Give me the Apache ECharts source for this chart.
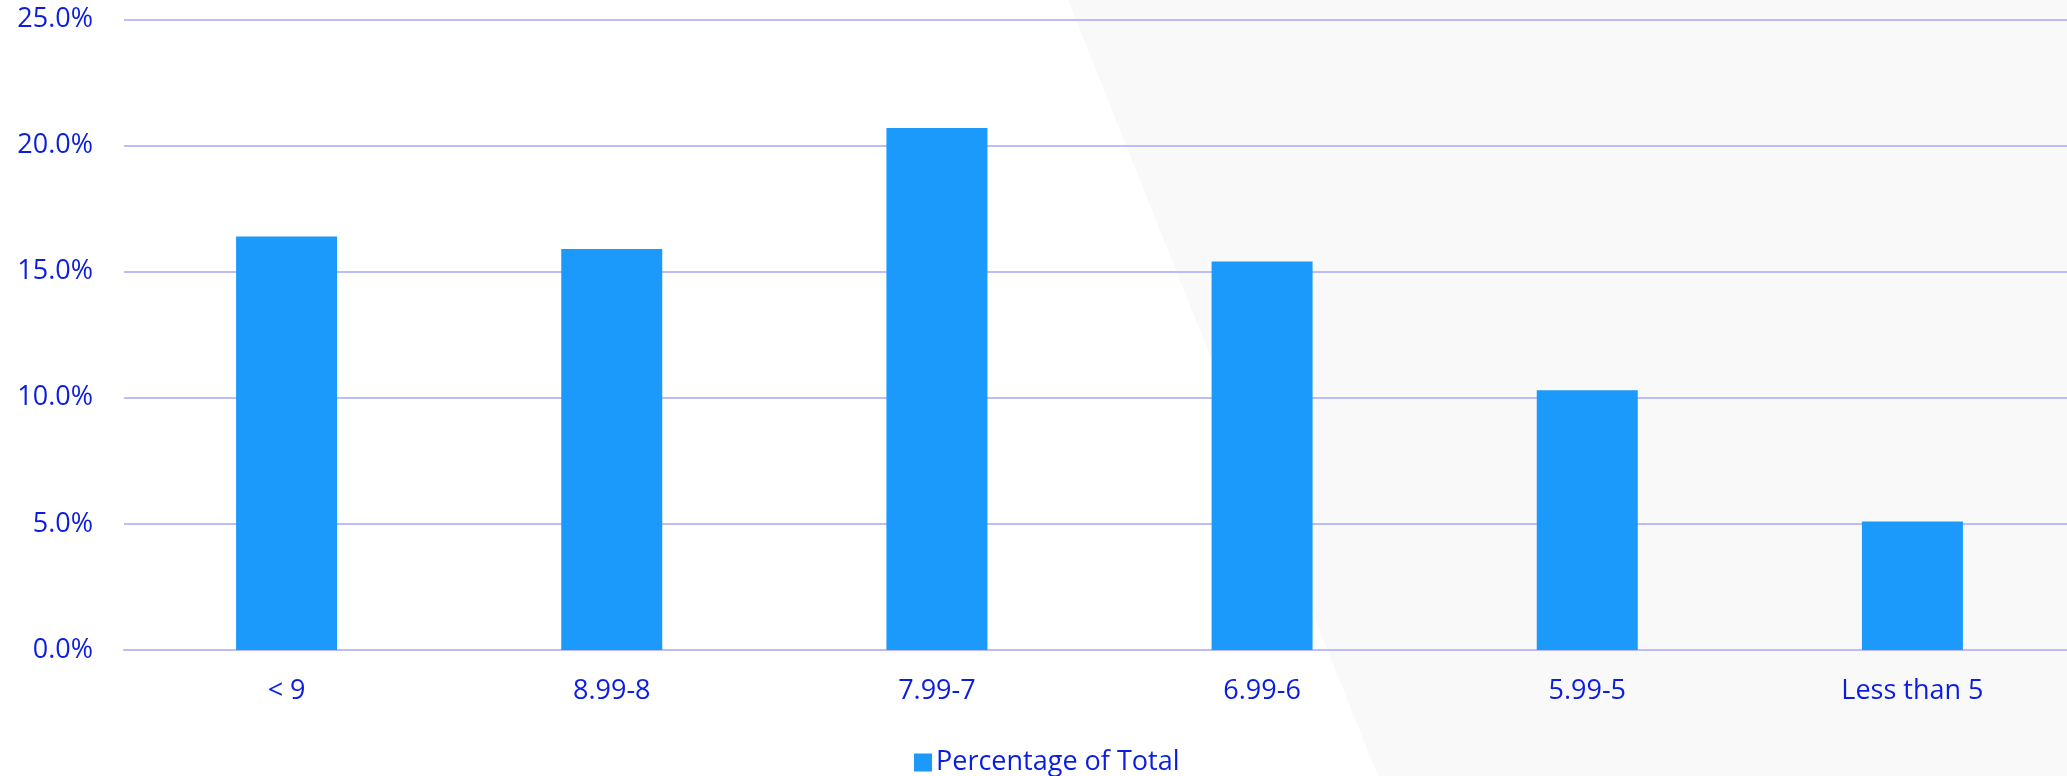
<!DOCTYPE html>
<html>
<head>
<meta charset="utf-8">
<script src="https://cdn.jsdelivr.net/npm/echarts@6/dist/echarts.min.js"></script>
<style>
  html, body { margin: 0; padding: 0; background: #ffffff; overflow: hidden; }
  /* the plot area runs slightly past the right edge of the window */
  #chart { width: 2080px; height: 776px; }
</style>
</head>
<body>
<div id="chart"></div>
<script>
// Share of total per score band
const categories = ['< 9', '8.99-8', '7.99-7', '6.99-6', '5.99-5', 'Less than 5'];
const percentOfTotal = [16.4, 15.9, 20.7, 15.4, 10.3, 5.1];
const seriesName = 'Percentage of Total';

const textBlue = '#0b1ee0';
const gridColor = '#bcbcfb';
const barColor = '#1c9afb';
const fontFamily = '"Open Sans", "Noto Sans", sans-serif';

const chart = echarts.init(document.getElementById('chart'), null, { renderer: 'canvas' });

chart.setOption({
  backgroundColor: '#ffffff',
  animation: false,
  textStyle: { fontFamily: fontFamily },
  graphic: [{
    // light diagonal panel behind the right half of the plot
    type: 'polygon',
    z: -10,
    silent: true,
    shape: { points: [[1068, 0], [2080, 0], [2080, 776], [1378, 776]] },
    style: { fill: '#f9f9f9' }
  }],
  grid: { left: 124, right: 5, top: 19.5, bottom: 126, containLabel: false },
  legend: {
    data: [seriesName],
    left: 909,
    top: 744,
    icon: 'rect',
    itemWidth: 18,
    itemHeight: 18,
    itemGap: 10,
    textStyle: { color: textBlue, fontSize: 27, fontFamily: fontFamily, padding: [0, 0, 0, -1] }
  },
  xAxis: {
    type: 'category',
    data: categories,
    axisLine: { show: true, lineStyle: { color: gridColor, width: 2 } },
    axisTick: { show: false },
    axisLabel: { color: textBlue, fontSize: 27, margin: 28, fontFamily: fontFamily }
  },
  yAxis: {
    type: 'value',
    min: 0,
    max: 25,
    interval: 5,
    axisLine: { show: false },
    axisTick: { show: false },
    splitLine: { lineStyle: { color: gridColor, width: 2 } },
    axisLabel: {
      color: textBlue,
      fontSize: 27,
      margin: 31,
      fontFamily: fontFamily,
      formatter: v => v.toFixed(1) + '%'
    }
  },
  series: [{
    name: seriesName,
    type: 'bar',
    data: percentOfTotal,
    barWidth: 101,
    itemStyle: { color: barColor }
  }]
});
</script>
</body>
</html>
